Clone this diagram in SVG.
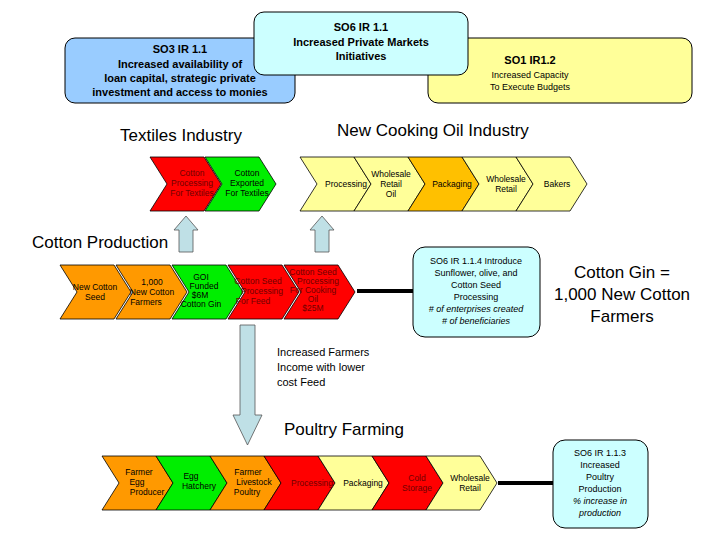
<svg xmlns="http://www.w3.org/2000/svg" width="720" height="540" viewBox="0 0 720 540">
<style>
text{font-family:"Liberation Sans",Arial,sans-serif;fill:#000}
.c{font-size:8.5px;text-anchor:middle}
.ch{stroke:#000;stroke-width:0.8}
.or{fill:#FF9900}.gr{fill:#00EE00}.rd{fill:#FF0000}.ly{fill:#FFFF99}.gd{fill:#FFC000}
.dr{fill:#700000}
.t{font-size:17px}
.box{stroke:#000;stroke-width:1}
.ar{fill:#BFE0E6;stroke:#555;stroke-width:0.8}
</style>
<defs>
<path id="chev" d="M0,0 H54 L71,27 L54,54 H0 L17,27 Z"/>
</defs>
<g id="so3"><rect class="box" x="65" y="38" width="230" height="65" rx="10" fill="#99CCFF"/>
<text x="180" y="53" font-size="11" font-weight="bold" text-anchor="middle">SO3 IR 1.1</text>
<text x="180" y="68" font-size="11" font-weight="bold" text-anchor="middle">Increased availability of</text>
<text x="180" y="82" font-size="11" font-weight="bold" text-anchor="middle">loan capital, strategic private</text>
<text x="180" y="96" font-size="11" font-weight="bold" text-anchor="middle">investment and access to monies</text></g>
<g id="so1"><rect class="box" x="428" y="38" width="264" height="65" rx="10" fill="#FFFF99"/>
<text x="530" y="64" font-size="11" font-weight="bold" text-anchor="middle">SO1 IR1.2</text>
<text x="530" y="78" font-size="9" text-anchor="middle">Increased Capacity</text>
<text x="530" y="90" font-size="9" text-anchor="middle">To Execute Budgets</text></g>
<g id="so6"><rect class="box" x="254" y="12" width="214" height="63" rx="10" fill="#CCFFFF"/>
<text x="361" y="31" font-size="11" font-weight="bold" text-anchor="middle">SO6 IR 1.1</text>
<text x="361" y="46" font-size="11" font-weight="bold" text-anchor="middle">Increased Private Markets</text>
<text x="361" y="60" font-size="11" font-weight="bold" text-anchor="middle">Initiatives</text></g>

<text class="t" x="120" y="141">Textiles Industry</text>
<text class="t" x="337" y="136">New Cooking Oil Industry</text>
<text class="t" x="32" y="248">Cotton Production</text>
<text class="t" x="284" y="435">Poultry Farming</text>
<g id="gin"><text class="t" x="622" y="278" text-anchor="middle">Cotton Gin =</text>
<text class="t" x="622" y="300" text-anchor="middle">1,000 New Cotton</text>
<text class="t" x="622" y="322" text-anchor="middle">Farmers</text></g>
<g id="income"><text x="277" y="356" font-size="11">Increased Farmers</text>
<text x="277" y="371" font-size="11">Income with lower</text>
<text x="277" y="386" font-size="11">cost Feed</text></g>

<g id="connectors">
<line x1="357" y1="291" x2="413" y2="291" stroke="#000" stroke-width="4"/>
<line x1="498" y1="483" x2="553" y2="483" stroke="#000" stroke-width="4"/>
<path class="ar" d="M179,252 V230 H174 L186,216 L198,230 H193 V252 Z"/>
<path class="ar" d="M315,252 V230 H310 L322,216 L334,230 H329 V252 Z"/>
<path class="ar" d="M240,325 V415 H233 L247.5,445 L262,415 H255 V325 Z"/>
</g>

<g id="textile">
<use href="#chev" x="150" y="157" class="ch rd"/>
<use href="#chev" x="205" y="157" class="ch gr"/>
<text class="c dr" x="192" y="176">Cotton</text><text class="c dr" x="192" y="186">Processing</text><text class="c dr" x="192" y="196">For Textiles</text>
<text class="c" x="247" y="176" fill="#004400">Cotton</text><text class="c" x="247" y="186" fill="#004400">Exported</text><text class="c" x="247" y="196" fill="#004400">For Textiles</text>
</g>
<g id="oil">
<use href="#chev" x="300" y="157" class="ch ly"/>
<use href="#chev" x="354" y="157" class="ch ly"/>
<use href="#chev" x="408" y="157" class="ch gd"/>
<use href="#chev" x="462" y="157" class="ch ly"/>
<use href="#chev" x="516" y="157" class="ch ly"/>
<text class="c" x="346" y="187">Processing</text>
<text class="c" x="391" y="177">Wholesale</text><text class="c" x="391" y="187">Retail</text><text class="c" x="391" y="197">Oil</text>
<text class="c" x="452" y="187">Packaging</text>
<text class="c" x="506" y="182">Wholesale</text><text class="c" x="506" y="192">Retail</text>
<text class="c" x="557" y="187">Bakers</text>
</g>
<g id="cotton">
<use href="#chev" x="60" y="265" class="ch or"/>
<use href="#chev" x="116" y="265" class="ch or"/>
<use href="#chev" x="172" y="265" class="ch gr"/>
<use href="#chev" x="228" y="265" class="ch rd"/>
<use href="#chev" x="284" y="265" class="ch rd"/>
<text class="c" x="95" y="290">New Cotton</text><text class="c" x="95" y="300">Seed</text>
<text class="c" x="152" y="285">1,000</text><text class="c" x="152" y="295">New Cotton</text><text class="c" x="146" y="305">Farmers</text>
<text class="c" x="201" y="280">GOI</text><text class="c" x="204" y="289">Funded</text><text class="c" x="200" y="298">$6M</text><text class="c" x="201" y="307">Cotton Gin</text>
<text class="c dr" x="258" y="284">Cotton Seed</text><text class="c dr" x="262" y="294">Processing</text><text class="c dr" x="253" y="304">For Feed</text>
<text class="c dr" x="313" y="275">Cotton Seed</text><text class="c dr" x="318" y="284">Processing</text><text class="c dr" x="313" y="293">For Cooking</text><text class="c dr" x="313" y="302">Oil</text><text class="c dr" x="313" y="311">$25M</text>
</g>
<g id="sunflower"><rect class="box" x="413" y="247" width="127" height="90" rx="12" fill="#CCFFFF"/>
<text x="476" y="264" font-size="9" text-anchor="middle">SO6 IR 1.1.4  Introduce</text>
<text x="476" y="276" font-size="9" text-anchor="middle">Sunflower, olive, and</text>
<text x="476" y="288" font-size="9" text-anchor="middle">Cotton Seed</text>
<text x="476" y="300" font-size="9" text-anchor="middle">Processing</text>
<text x="476" y="312" font-size="9" font-style="italic" text-anchor="middle"># of enterprises created</text>
<text x="476" y="324" font-size="9" font-style="italic" text-anchor="middle"># of beneficiaries</text></g>
<g id="poultry">
<use href="#chev" x="102" y="456" class="ch or"/>
<use href="#chev" x="156" y="456" class="ch gr"/>
<use href="#chev" x="210" y="456" class="ch or"/>
<use href="#chev" x="264" y="456" class="ch rd"/>
<use href="#chev" x="318" y="456" class="ch ly"/>
<use href="#chev" x="372" y="456" class="ch rd"/>
<use href="#chev" x="426" y="456" class="ch ly"/>
<text class="c" x="139" y="475">Farmer</text><text class="c" x="137" y="485">Egg</text><text class="c" x="147" y="495">Producer</text>
<text class="c" x="191" y="479">Egg</text><text class="c" x="199" y="489">Hatchery</text>
<text class="c" x="248" y="475">Farmer</text><text class="c" x="254" y="485">Livestock</text><text class="c" x="247" y="495">Poultry</text>
<text class="c dr" x="312" y="486">Processing</text>
<text class="c" x="363" y="486">Packaging</text>
<text class="c dr" x="417" y="481">Cold</text><text class="c dr" x="417" y="491">Storage</text>
<text class="c" x="470" y="481">Wholesale</text><text class="c" x="470" y="491">Retail</text>
</g>
<g id="poultrybox"><rect class="box" x="553" y="440" width="95" height="88" rx="12" fill="#CCFFFF"/>
<text x="600" y="456" font-size="9" text-anchor="middle">SO6 IR 1.1.3</text>
<text x="600" y="468" font-size="9" text-anchor="middle">Increased</text>
<text x="600" y="480" font-size="9" text-anchor="middle">Poultry</text>
<text x="600" y="492" font-size="9" text-anchor="middle">Production</text>
<text x="600" y="504" font-size="9" font-style="italic" text-anchor="middle">% increase in</text>
<text x="600" y="516" font-size="9" font-style="italic" text-anchor="middle">production</text></g>
</svg>
